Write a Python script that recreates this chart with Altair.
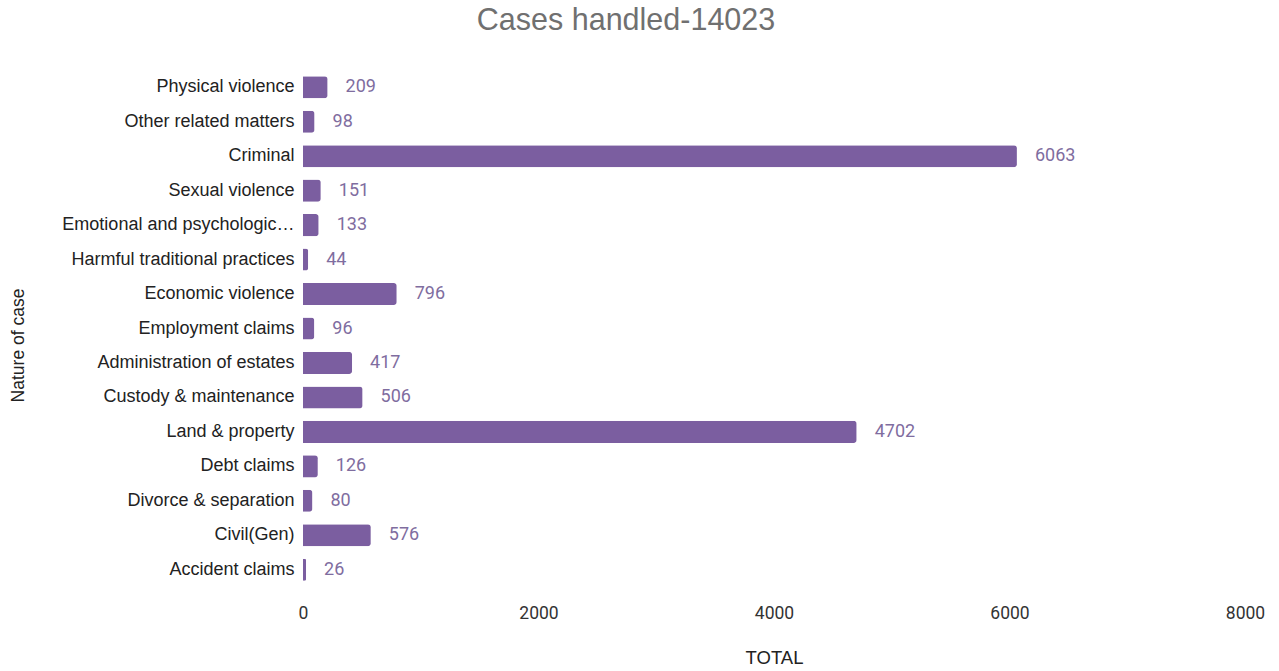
import altair as alt
import pandas as pd

categories = [
    "Physical violence", "Other related matters", "Criminal", "Sexual violence",
    "Emotional and psychological violence", "Harmful traditional practices",
    "Economic violence", "Employment claims", "Administration of estates",
    "Custody & maintenance", "Land & property", "Debt claims",
    "Divorce & separation", "Civil(Gen)", "Accident claims",
]
totals = [209, 98, 6063, 151, 133, 44, 796, 96, 417, 506, 4702, 126, 80, 576, 26]
x_ticks = [0, 2000, 4000, 6000, 8000]

df = pd.DataFrame({"case": categories, "total": totals})

W, H = 942, 517

base = alt.Chart(df).encode(
    y=alt.Y("case:N", sort=categories, title="Nature of case",
            scale=alt.Scale(paddingInner=0.36, paddingOuter=0.18),
            axis=alt.Axis(domain=False, ticks=False, labelFontSize=18,
                          labelFont="Liberation Sans", labelColor="#222222",
                          labelPadding=9, labelLimit=236,
                          titleFont="Liberation Sans", titleFontSize=17.5,
                          titleFontWeight="normal", titleColor="#222222",
                          titleX=-285, titleY=275, titleAngle=270,
                          titleAlign="center", titleBaseline="middle")),
)

bars = base.mark_bar(color="#7b5ea0", cornerRadiusEnd=3).encode(
    x=alt.X("total:Q", title="TOTAL",
            scale=alt.Scale(domain=[0, 8000], nice=False),
            axis=alt.Axis(values=x_ticks, format="d", grid=False, domain=False,
                          ticks=False, labelFlush=False, labelFont="Roboto",
                          labelFontSize=17.5, labelColor="#333333",
                          labelPadding=26, labelBaseline="middle",
                          titleFont="Liberation Sans", titleFontSize=18.5,
                          titleFontWeight="normal", titleColor="#222222",
                          titleY=70, titleBaseline="middle")),
)

labels = base.mark_text(align="left", baseline="middle", dx=18, font="Roboto",
                        fontSize=18, color="#7f6d9f").encode(
    x="total:Q",
    text=alt.Text("total:Q", format="d"),
)

chart = (bars + labels).properties(
    width=W, height=H,
    title=alt.TitleParams("Cases handled-14023", font="Liberation Sans",
                          fontSize=30.5, fontWeight="normal", color="#707070",
                          anchor="middle", offset=0, baseline="middle",
                          dy=-19, dx=-148),
    autosize=alt.AutoSizeParams(type="none"),
    padding={"left": 303, "top": 70, "right": 34, "bottom": 84},
).configure_view(stroke=None)

chart.save("out.html", embed_options={"renderer": "svg", "actions": False})
